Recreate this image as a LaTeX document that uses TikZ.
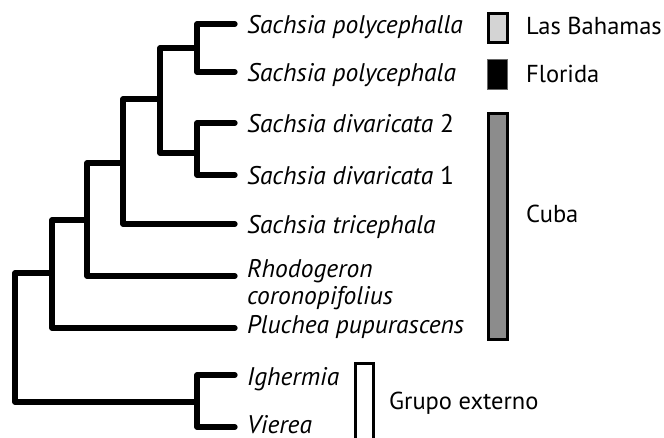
\documentclass[tikz,border=0pt]{standalone}
\usepackage{fontspec}
\setmainfont{PT Sans}
\begin{document}
\begin{tikzpicture}[x=1pt,y=-1pt,
  branch/.style={line width=5.3pt,line cap=round,line join=round},
  taxon/.style={anchor=base west,inner sep=0pt,font=\fontsize{25.5}{28}\selectfont\itshape},
  region/.style={anchor=base west,inner sep=0pt,font=\fontsize{24.5}{28}\selectfont},
  bar/.style={draw=black,line width=3pt,inner sep=0pt,anchor=north west}]
\useasboundingbox (0,0) rectangle (664,438);
% tips
\coordinate (t1) at (235,24);
\coordinate (t2) at (235,72);
\coordinate (t3) at (235,123);
\coordinate (t4) at (235,175);
\coordinate (t5) at (235,224);
\coordinate (t6) at (235,276);
\coordinate (t7) at (235,328);
\coordinate (t8) at (235,375);
\coordinate (t9) at (235,427);
% internal nodes
\coordinate (n1) at (197,48);
\coordinate (n2) at (197,153);
\coordinate (n3) at (160,99);
\coordinate (n4) at (123,163);
\coordinate (n5) at (87,220);
\coordinate (n6) at (52,273);
\coordinate (n7) at (197,402);
\coordinate (root) at (15,340);
% branches
\draw[branch] (t1) -| (n1) |- (t2);
\draw[branch] (t3) -| (n2) |- (t4);
\draw[branch] (n1) -| (n3) |- (n2);
\draw[branch] (n3) -| (n4) |- (t5);
\draw[branch] (n4) -| (n5) |- (t6);
\draw[branch] (n5) -| (n6) |- (t7);
\draw[branch] (t8) -| (n7) |- (t9);
\draw[branch] (n6) -| (root) |- (n7);
% labels
\node[taxon] (s1) at (247,34) {Sachsia polycephalla};
\node[taxon] (s2) at (247,82) {Sachsia polycephala};
\node[taxon] (s3) at (247,133) {Sachsia divaricata \upshape 2};
\node[taxon] (s4) at (247,185) {Sachsia divaricata \upshape 1};
\node[taxon] (s5) at (247,234) {Sachsia tricephala};
\node[taxon] (s6) at (247,278) {Rhodogeron};
\node[taxon] (s6b) at (247,305) {coronopifolius};
\node[taxon] (s7) at (247,334) {Pluchea pupurascens};
\node[taxon] (s8) at (247,385) {Ighermia};
\node[taxon] (s9) at (247,433) {Vierea};
% bars
\node[bar,fill=black!17,minimum width=19pt,minimum height=29pt] (bBah) at (487,12) {};
\node[draw=black!60,line width=0.8pt,fill=black,inner sep=0pt,anchor=north west,minimum width=20pt,minimum height=30pt] (bFlo) at (486.5,59) {};
\node[bar,fill=black!45,minimum width=19pt,minimum height=226pt] (bCub) at (487,112) {};
\node[bar,fill=white,minimum width=18pt,minimum height=90pt] (bOut) at (354,362) {};
\node[region] (rBah) at (526,35) {Las Bahamas};
\node[region] (rFlo) at (526,83) {Florida};
\node[region] (rCub) at (526,223) {Cuba};
\node[region] (rOut) at (389,409) {Grupo externo};
\end{tikzpicture}
\end{document}
